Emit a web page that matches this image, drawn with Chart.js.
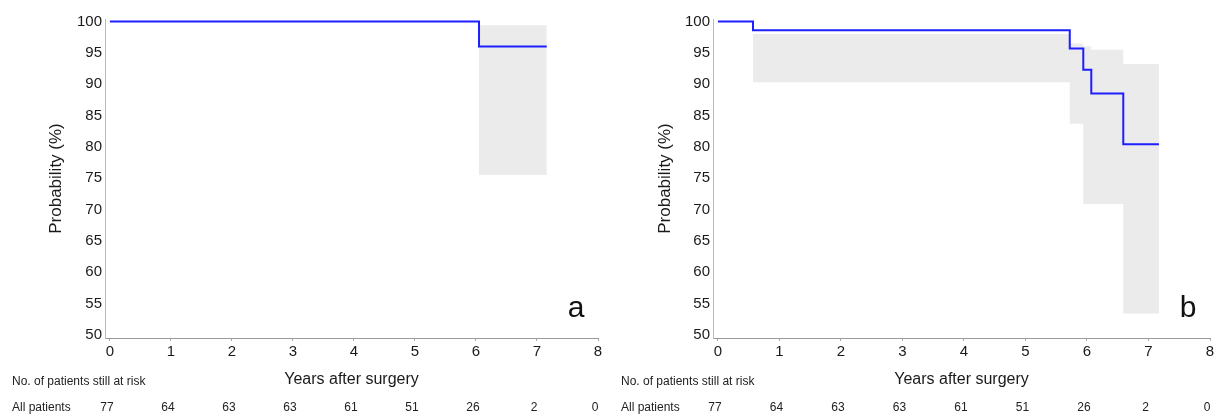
<!DOCTYPE html>
<html lang="en">
<head>
<meta charset="UTF-8">
<title>Kaplan-Meier curves</title>
<script src="https://cdn.jsdelivr.net/npm/chart.js"></script>
<style>
    body {
        margin: 0;
        background: #fff;
        font-family: "Liberation Sans", Arial, sans-serif;
    }

    .panel {
        position: absolute;
        top: 0;
        width: 608px;
        height: 415px;
    }

    #panelA { left: 0; }
    #panelB { left: 609px; }
</style>
</head>
<body>
<div class="panel" id="panelA"><canvas id="chartA"></canvas></div>
<div class="panel" id="panelB"><canvas id="chartB"></canvas></div>

<script>
    // axes
    const xTicks = [0, 1, 2, 3, 4, 5, 6, 7, 8];
    const yTicks = [50, 55, 60, 65, 70, 75, 80, 85, 90, 95, 100];
    const atRisk = [77, 64, 63, 63, 61, 51, 26, 2, 0];

    // panel a
    const timesA = [0, 6.05, 7.16];
    const survA = [100, 96, 96];
    const upperA = [100, 99.4, 99.4];
    const lowerA = [100, 75.5, 75.5];

    // panel b
    const timesB = [0, 0.57, 5.72, 5.94, 6.07, 6.59, 7.17];
    const survB = [100, 98.6, 95.7, 92.3, 88.5, 80.4, 80.4];
    const upperB = [100, 98, 96.5, 96, 95.5, 93.2, 93.2];
    const lowerB = [100, 90.3, 83.7, 70.9, 70.9, 53.4, 53.4];

    const pts = (xs, ys) => xs.map((x, i) => ({ x: x, y: ys[i] }));

    // risk table + panel letter
    const extras = {
        id: 'extras',
        afterDraw(chart) {
            const ctx = chart.ctx;
            const xs = chart.scales.x;
            const area = chart.chartArea;
            ctx.save();
            ctx.fillStyle = '#222';
            ctx.font = '12px "Liberation Sans", Arial, sans-serif';
            ctx.textBaseline = 'middle';
            ctx.textAlign = 'left';
            ctx.fillText('No. of patients still at risk', 12, 382);
            ctx.fillText('All patients', 12, 408);
            ctx.textAlign = 'center';
            atRisk.forEach((n, i) => {
                ctx.fillText(String(n), xs.getPixelForValue(xTicks[i]) - 3, 408);
            });
            ctx.font = '30px "Liberation Sans", Arial, sans-serif';
            ctx.textBaseline = 'alphabetic';
            ctx.fillStyle = '#111';
            ctx.fillText(chart.options.plugins.extras.letter, area.right - 22, 317);
            ctx.restore();
        }
    };

    function makeChart(id, times, surv, upper, lower, letter, yWidth, rightPad) {
        const ctx = document.getElementById(id).getContext('2d');
        return new Chart(ctx, {
            type: 'line',
            data: {
                datasets: [
                    {
                        data: pts(times, surv),
                        borderColor: '#1e1eff',
                        borderWidth: 2,
                        stepped: true,
                        pointRadius: 0,
                        fill: false,
                        order: 0
                    },
                    {
                        data: pts(times, upper),
                        borderWidth: 0,
                        borderColor: 'rgba(0,0,0,0)',
                        stepped: true,
                        pointRadius: 0,
                        fill: false,
                        order: 1
                    },
                    {
                        data: pts(times, lower),
                        borderWidth: 0,
                        borderColor: 'rgba(0,0,0,0)',
                        backgroundColor: 'rgba(228,228,228,0.75)',
                        stepped: true,
                        pointRadius: 0,
                        fill: '-1',
                        order: 2
                    }
                ]
            },
            options: {
                responsive: true,
                maintainAspectRatio: false,
                animation: false,
                layout: { padding: { top: 19, right: rightPad, left: 0, bottom: 0 } },
                plugins: {
                    legend: { display: false },
                    tooltip: { enabled: false },
                    extras: { letter: letter }
                },
                scales: {
                    x: {
                        type: 'linear',
                        min: -0.08,
                        max: 8,
                        afterBuildTicks: s => { s.ticks = xTicks.map(v => ({ value: v })); },
                        afterFit: s => { s.height = 77; },
                        ticks: {
                            font: { family: '"Liberation Sans", Arial', size: 15 },
                            color: '#1a1a1a',
                            padding: 2,
                            maxRotation: 0,
                            autoSkip: false
                        },
                        grid: { drawOnChartArea: false, tickLength: 3, color: '#aaa' },
                        border: { color: '#999' },
                        title: {
                            display: true,
                            text: 'Years after surgery',
                            font: { family: '"Liberation Sans", Arial', size: 16 },
                            color: '#1a1a1a',
                            padding: { top: 0, bottom: 26 }
                        }
                    },
                    y: {
                        min: 49.5,
                        max: 100.4,
                        afterBuildTicks: s => { s.ticks = yTicks.map(v => ({ value: v })); },
                        afterFit: s => { s.width = yWidth; },
                        ticks: {
                            font: { family: '"Liberation Sans", Arial', size: 15 },
                            color: '#1a1a1a',
                            padding: 3
                        },
                        grid: { display: false, drawTicks: false },
                        border: { display: true, color: '#bbb' },
                        title: {
                            display: true,
                            text: 'Probability (%)',
                            font: { family: '"Liberation Sans", Arial', size: 17 },
                            color: '#1a1a1a',
                            padding: { top: 46, bottom: 0 }
                        }
                    }
                }
            },
            plugins: [extras]
        });
    }

    makeChart('chartA', timesA, survA, upperA, lowerA, 'a', 105, 10);
    makeChart('chartB', timesB, survB, upperB, lowerB, 'b', 104, 7);
</script>
</body>
</html>
